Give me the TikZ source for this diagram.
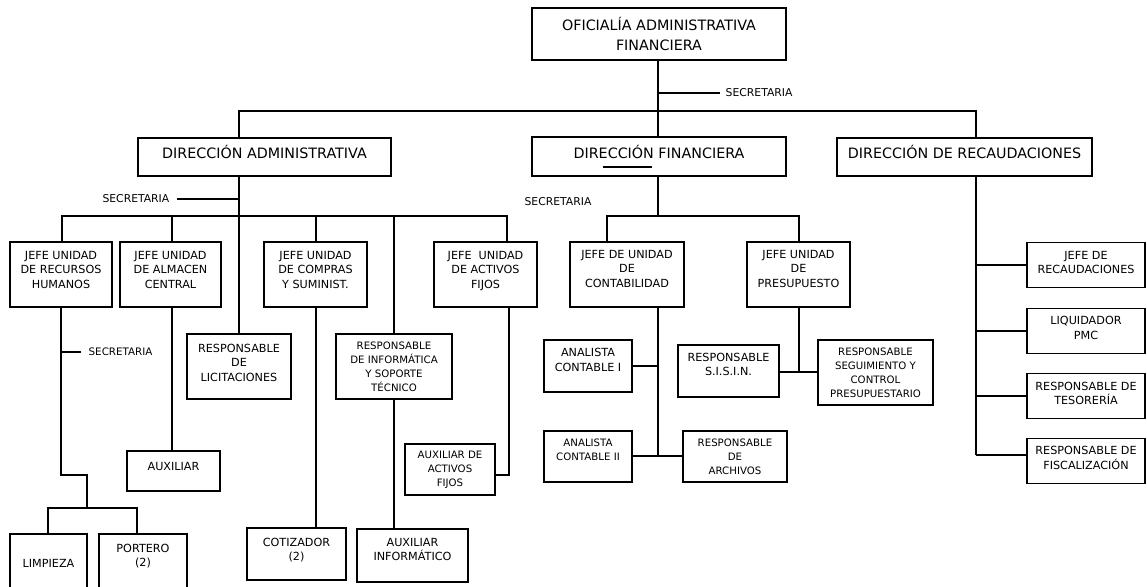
\documentclass[tikz,border=0pt]{standalone}
\usepackage{fontspec}
\setmainfont{DejaVu Sans}
\newcommand\fA{\fontsize{14.3}{20}\selectfont}
\newcommand\fB{\fontsize{11.2}{14.5}\selectfont}
\newcommand\fC{\fontsize{10.2}{14}\selectfont}
\newcommand\fS{\fontsize{10.8}{13}\selectfont}
\newcommand\shup[1]{\\[#1]\mbox{}}
\begin{document}
\begin{tikzpicture}[x=1pt,y=-1pt,line width=1.4pt,
  box/.style={draw,rectangle,inner sep=0pt,align=center,font=\fB},
  big/.style={box,font=\fA},
  small/.style={box,font=\fC},
  sz/.style 2 args={minimum width=#1pt,minimum height=#2pt},
  sec/.style={inner sep=0pt,font=\fS}]
\useasboundingbox (0,0) rectangle (1147,586);

% top levels
\node[big,sz={254}{52}] (of) at (659,34) {OFICIALÍA ADMINISTRATIVA\\FINANCIERA};
\node[big,sz={253}{38},text height=3.5pt,text depth=0pt] (da) at (264.5,157) {DIRECCIÓN ADMINISTRATIVA};
\node[big,sz={254}{39},text height=3.5pt,text depth=0pt] (df) at (659,156.5) {DIRECCIÓN FINANCIERA};
\node[big,sz={255}{38},text height=3.5pt,text depth=0pt] (dr) at (964.5,157) {DIRECCIÓN DE RECAUDACIONES};

% secretarias
\node[sec,anchor=west] (st) at (725,93) {SECRETARIA};
\node[sec,anchor=east] (sa) at (170,199) {SECRETARIA};
\node[sec] (sf) at (558,202) {SECRETARIA};
\node[sec,anchor=west,font=\fontsize{10.3}{13}\selectfont] (sr) at (88,352) {SECRETARIA};

% administrative branch
\node[box,sz={102}{65}] (rrhh) at (61,274.5) {JEFE UNIDAD\\DE RECURSOS\\HUMANOS\shup{-4.5pt}};
\node[box,sz={101}{65}] (alm) at (170.5,274.5) {JEFE UNIDAD\\DE ALMACEN\\CENTRAL\shup{-4.5pt}};
\node[box,sz={103}{65}] (comp) at (315.5,274.5) {JEFE UNIDAD\\DE COMPRAS\\Y SUMINIST.\shup{-4.5pt}};
\node[box,sz={103}{65}] (act) at (485.5,274.5) {JEFE \ UNIDAD\\DE ACTIVOS\\FIJOS\shup{-4.5pt}};
\node[box,sz={104}{65}] (lic) at (239,366.5) {RESPONSABLE\\DE\\LICITACIONES\shup{-6.5pt}};
\node[small,sz={116}{65}] (inf) at (394,366.5) {RESPONSABLE\\DE INFORMÁTICA\\Y SOPORTE\\TÉCNICO};
\node[box,sz={93}{40},text height=0pt,text depth=1.8pt] (aux) at (173.5,471) {AUXILIAR};
\node[small,sz={90}{51}] (auxact) at (450,469.5) {AUXILIAR DE\\ACTIVOS\\FIJOS};
\node[box,sz={77}{60},text height=6.2pt,text depth=0pt] (limp) at (48.5,564) {LIMPIEZA};
\node[box,sz={88}{60}] (port) at (143,564) {PORTERO\\(2)\shup{2.5pt}};
\node[box,sz={99}{52}] (cot) at (296.5,554) {COTIZADOR\\(2)\shup{-5.5pt}};
\node[box,sz={111}{53}] (auxinf) at (412.5,555.5) {AUXILIAR\\INFORMÁTICO\shup{-2.5pt}};

% financial branch
\node[box,sz={114}{65}] (cont) at (627,274.5) {JEFE DE UNIDAD\\DE\\CONTABILIDAD\shup{-2.5pt}};
\node[box,sz={103}{65}] (pres) at (798.5,274.5) {JEFE UNIDAD\\DE\\PRESUPUESTO\shup{-2.5pt}};
\node[box,sz={88}{52}] (ac1) at (588,366) {ANALISTA\\CONTABLE I\shup{-2.5pt}};
\node[small,sz={88}{51}] (ac2) at (588,456.5) {ANALISTA\\CONTABLE II\shup{-1pt}};
\node[small,sz={104}{51}] (arch) at (735,456.5) {RESPONSABLE\\DE\\ARCHIVOS};
\node[box,sz={101}{52}] (sisin) at (728.5,371) {RESPONSABLE\\S.I.S.I.N.\shup{-1.5pt}};
\node[small,sz={115}{65}] (seg) at (875.5,372.5) {RESPONSABLE\\SEGUIMIENTO Y\\CONTROL\\PRESUPUESTARIO};

% collections branch
\node[box,sz={118}{45}] (jr) at (1086,265) {JEFE DE\\RECAUDACIONES\shup{-9.5pt}};
\node[box,sz={118}{45}] (liq) at (1086,331) {LIQUIDADOR\\PMC\shup{-8.5pt}};
\node[box,sz={118}{45}] (tes) at (1086,396) {RESPONSABLE DE\\TESORERÍA\shup{-9.5pt}};
\node[box,sz={118}{45}] (fisc) at (1086,461) {RESPONSABLE DE\\FISCALIZACIÓN\shup{-8.5pt}};

% coordinates
\coordinate (tv) at (658,111);
\coordinate (ab) at (239,216);
\coordinate (abL) at (62,216);
\coordinate (abR) at (507,216);
\coordinate (almx) at (172,216);
\coordinate (compx) at (316,216);
\coordinate (rv) at (976,455);
\coordinate (r1) at (61,475);
\coordinate (r2) at (87,508);
\coordinate (pd) at (137,508);
\coordinate (ld) at (48,508);
\coordinate (ak) at (509,475);
\coordinate (fbL) at (607,216);
\coordinate (fbR) at (799,216);
\coordinate (cv) at (658,456);
\coordinate (pv) at (799,372);

% connectors
\draw (of.south -| tv) -- (df.north -| tv);
\draw (tv |- st.west) -- ([xshift=-5pt]st.west);
\draw (da.north -| ab) -- (ab |- tv) -- (rv |- tv) -- (dr.north -| rv);
\draw (da.south -| ab) -- (lic.north -| ab);
\draw ([xshift=7pt]sa.east) -- (ab |- sa.east);
\draw (rrhh.north -| abL) -- (abL) -- (abR) -- (act.north -| abR);
\draw (alm.north -| almx) -- (almx);
\draw (comp.north -| compx) -- (compx);
\draw (inf.north) -- (inf.north |- abL);
\draw (rrhh.south -| r1) -- (r1) -- (r1 -| r2) -- (r2);
\draw ([xshift=-7pt]sr.west) -- (r1 |- sr.west);
\draw (limp.north -| ld) -- (ld) -- (pd) -- (port.north -| pd);
\draw (alm.south -| almx) -- (aux.north -| almx);
\draw (comp.south -| compx) -- (cot.north -| compx);
\draw (inf.south) -- (inf.south |- auxinf.north);
\draw (act.south -| ak) -- (ak) -- (auxact.east |- ak);

\draw (df.south -| tv) -- (tv |- fbL);
\draw (cont.north -| fbL) -- (fbL) -- (fbR) -- (pres.north -| fbR);
\draw (cont.south -| cv) -- (cv);
\draw (ac1.east) -- (ac1.east -| cv);
\draw (ac2.east |- cv) -- (arch.west |- cv);
\draw (pres.south -| pv) -- (pv);
\draw (sisin.east |- pv) -- (seg.west |- pv);

\draw (dr.south -| rv) -- (rv);
\draw (jr.west) -- (jr.west -| rv);
\draw (liq.west) -- (liq.west -| rv);
\draw (tes.west) -- (tes.west -| rv);
\draw (rv) -- (fisc.west |- rv);

% stray underline in DIRECCIÓN FINANCIERA
\draw ([xshift=-56pt,yshift=-10.5pt]df.center) -- ([xshift=-7pt,yshift=-10.5pt]df.center);
\end{tikzpicture}
\end{document}
